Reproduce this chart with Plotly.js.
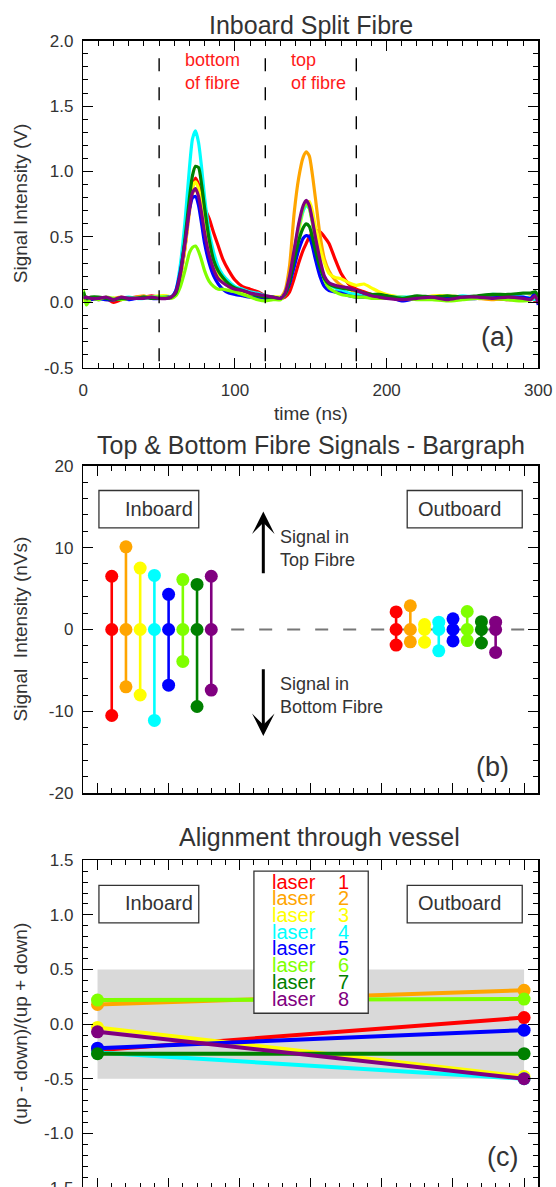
<!DOCTYPE html>
<html><head><meta charset="utf-8">
<script src="https://cdn.plot.ly/plotly-3.0.1.min.js"></script>
<style>html,body{margin:0;padding:0;overflow:hidden;background:#fff}</style>
</head><body><div id="chart" style="width:556px;height:1200px"></div>
<script>
// ---------- Panel (a): Inboard split fibre signals ----------
const time = [0,2,5,10,15,20,25,30,35,40,45,50,55,
  58,61,64,67,70,72,74,76,78,80,83,86,89,92,96,100,105,110,115,120,125,130,
  133,136,139,142,145,147,149,151,153,156,159,162,166,170,175,180,185,190,195,200,
  210,220,230,240,250,260,270,280,290,295,298,300];

const laser1 = [0.05,0.02,0.03,0.02,0.03,0.00,0.02,0.03,0.04,0.04,0.05,0.04,0.04,
  0.04,0.06,0.20,0.42,0.72,0.88,0.95,0.90,0.80,0.72,0.64,0.53,0.43,0.33,0.24,0.17,0.12,0.10,0.08,0.05,0.04,0.03,
  0.04,0.08,0.18,0.30,0.40,0.45,0.50,0.53,0.55,0.54,0.50,0.45,0.33,0.22,0.14,0.10,0.08,0.06,0.05,0.04,
  0.03,0.04,0.03,0.03,0.03,0.04,0.03,0.02,0.03,0.04,0.01,0.03];
const laser2 = [0.07,0.03,0.02,0.03,0.02,0.03,0.04,0.03,0.04,0.05,0.03,0.04,0.04,
  0.04,0.07,0.20,0.41,0.69,0.83,0.87,0.82,0.70,0.55,0.38,0.27,0.20,0.16,0.12,0.09,0.07,0.06,0.05,0.04,0.04,0.04,
  0.09,0.28,0.68,0.95,1.11,1.15,1.12,0.98,0.80,0.52,0.33,0.24,0.17,0.13,0.10,0.08,0.06,0.05,0.04,0.04,
  0.04,0.03,0.03,0.04,0.04,0.03,0.02,0.03,0.03,0.03,0.04,0.05];
const laser3 = [0.00,0.04,0.02,0.03,0.02,0.03,0.02,0.03,0.03,0.03,0.04,0.05,0.05,
  0.04,0.07,0.21,0.43,0.73,0.88,0.92,0.87,0.74,0.58,0.40,0.29,0.21,0.16,0.12,0.10,0.08,0.06,0.05,0.04,0.04,0.04,
  0.06,0.16,0.34,0.54,0.70,0.76,0.77,0.70,0.58,0.42,0.30,0.22,0.19,0.18,0.15,0.13,0.14,0.11,0.08,0.06,
  0.04,0.03,0.05,0.05,0.04,0.03,0.04,0.04,0.03,0.04,0.06,0.04];
const laser4 = [0.06,0.03,0.03,0.02,0.03,0.02,0.03,0.04,0.03,0.03,0.04,0.04,0.04,
  0.04,0.09,0.29,0.61,1.03,1.25,1.31,1.22,1.03,0.80,0.54,0.38,0.27,0.21,0.16,0.12,0.10,0.08,0.07,0.05,0.04,0.03,
  0.07,0.19,0.38,0.57,0.70,0.74,0.72,0.62,0.48,0.30,0.19,0.14,0.11,0.09,0.07,0.06,0.05,0.05,0.04,0.04,
  0.04,0.04,0.04,0.03,0.05,0.04,0.06,0.05,0.04,0.03,0.02,0.04];
const laser5 = [0.04,0.03,0.02,0.03,0.02,0.02,0.03,0.02,0.03,0.04,0.03,0.03,0.04,
  0.04,0.09,0.24,0.46,0.71,0.80,0.81,0.74,0.60,0.45,0.30,0.20,0.14,0.10,0.07,0.06,0.05,0.04,0.04,0.03,0.03,0.03,
  0.06,0.14,0.27,0.40,0.49,0.51,0.50,0.43,0.33,0.20,0.12,0.09,0.08,0.07,0.05,0.04,0.04,0.04,0.05,0.05,
  0.01,0.03,0.03,0.04,0.03,0.03,0.05,0.04,0.04,0.03,0.07,-0.02];
const laser6 = [0.10,-0.02,0.03,0.02,0.04,0.03,0.02,0.03,0.03,0.04,0.04,0.04,0.04,
  0.03,0.05,0.12,0.24,0.38,0.42,0.43,0.39,0.32,0.24,0.16,0.12,0.10,0.10,0.09,0.08,0.06,0.04,0.02,0.01,0.02,0.02,
  0.06,0.19,0.38,0.58,0.72,0.76,0.72,0.61,0.48,0.31,0.17,0.11,0.08,0.06,0.05,0.04,0.04,0.03,0.03,0.03,
  0.03,0.02,0.02,0.01,0.02,0.03,0.03,0.02,0.01,0.02,0.04,0.02];
const laser7 = [0.08,0.03,0.04,0.04,0.03,0.02,0.03,0.03,0.03,0.04,0.03,0.03,0.03,
  0.04,0.07,0.22,0.48,0.80,0.97,1.04,1.03,0.90,0.72,0.48,0.32,0.24,0.19,0.14,0.11,0.09,0.07,0.05,0.04,0.04,0.03,
  0.06,0.16,0.32,0.47,0.57,0.60,0.58,0.50,0.40,0.27,0.18,0.14,0.12,0.11,0.10,0.09,0.07,0.06,0.06,0.05,
  0.03,0.05,0.04,0.05,0.04,0.05,0.06,0.06,0.07,0.07,0.08,0.04];
const laser8 = [0.03,0.04,0.03,0.03,0.04,0.02,0.04,0.03,0.03,0.03,0.04,0.03,0.03,
  0.04,0.08,0.22,0.45,0.72,0.84,0.87,0.81,0.68,0.53,0.36,0.25,0.18,0.15,0.12,0.10,0.09,0.07,0.06,0.05,0.04,0.03,
  0.07,0.20,0.40,0.60,0.74,0.78,0.74,0.63,0.50,0.33,0.20,0.15,0.13,0.12,0.11,0.09,0.07,0.05,0.04,0.03,
  0.02,0.03,0.04,0.02,0.04,0.04,0.03,0.04,0.03,0.02,0.05,-0.01];
const regionBounds = [50, 120, 180];

// ---------- Panel (b): top & bottom fibre signals ----------
const laserNames = ['1','2','3','4','5','6','7','8'];
const inboardTop    = [6.5, 10.1, 7.5, 6.6, 4.3, 6.1, 5.5, 6.5];
const inboardBottom = [-10.5, -7.0, -8.0, -11.1, -6.8, -3.9, -9.4, -7.4];
const outboardTop    = [2.15, 2.9, 0.6, 0.9, 1.3, 2.2, 0.95, 0.9];
const outboardBottom = [-1.9, -1.5, -1.55, -2.6, -1.4, -1.35, -1.65, -2.8];

// ---------- Panel (c): alignment ----------
const inboardAlign  = [-0.24, 0.18, -0.03, -0.26, -0.22, 0.22, -0.27, -0.07];
const outboardAlign = [0.06, 0.31, -0.48, -0.50, -0.055, 0.23, -0.27, -0.50];

// axis tick labels
const tickA = [-0.5,0,0.5,1,1.5,2], tickAText = ['-0.5','0.0','0.5','1.0','1.5','2.0'];
const tickB = [-20,-10,0,10,20], tickBText = ['-20','-10','0','10','20'];
const tickC = [-1.5,-1,-0.5,0,0.5,1,1.5], tickCText = ['-1.5','-1.0','-0.5','0.0','0.5','1.0','1.5'];
const tickX = [0,100,200,300], tickXText = ['0','100','200','300'];

// ---------- styles ----------
const COLORS = ['#ff0000','#ffa500','#ffff00','#00ffff','#0000ff','#7fff00','#008000','#800080'];
const FONT = '"Liberation Sans", Arial, sans-serif';
const TXT = '#333';
const signals = [laser1,laser2,laser3,laser4,laser5,laser6,laser7,laser8];

const traces = [];
signals.forEach((s,i)=>{
  traces.push({x: time, y: s, type:'scatter', mode:'lines', xaxis:'x', yaxis:'y',
    line:{color:COLORS[i], width:3.2, shape:'spline', smoothing:0.6}, hoverinfo:'skip'});
});
laserNames.forEach((n,i)=>{
  const xi = i + 1;
  traces.push({x:[xi,xi,xi], y:[inboardBottom[i],0,inboardTop[i]], type:'scatter', mode:'lines+markers',
    xaxis:'x2', yaxis:'y2', line:{color:COLORS[i], width:2.6}, marker:{color:COLORS[i], size:13}, hoverinfo:'skip'});
  const xo = 21 + i;
  traces.push({x:[xo,xo,xo], y:[outboardBottom[i],0,outboardTop[i]], type:'scatter', mode:'lines+markers',
    xaxis:'x2', yaxis:'y2', line:{color:COLORS[i], width:2.6}, marker:{color:COLORS[i], size:13}, hoverinfo:'skip'});
});
laserNames.forEach((n,i)=>{
  traces.push({x:[0,30], y:[inboardAlign[i], outboardAlign[i]], type:'scatter', mode:'lines+markers',
    xaxis:'x3', yaxis:'y3', line:{color:COLORS[i], width:4}, marker:{color:COLORS[i], size:13}, hoverinfo:'skip'});
});

const H = 1200;
const dom = (top, bot) => [1 - bot/H, 1 - top/H];
const xDom = [83.3/556, 538.3/556];

function axis(extra){
  return Object.assign({showline:true, linecolor:'#000', linewidth:1.5, mirror:'allticks',
    ticks:'inside', ticklen:10, tickwidth:1, tickcolor:'#000', showgrid:false, zeroline:false,
    tickfont:{family:FONT, size:17, color:TXT}, fixedrange:true}, extra);
}
function minor(d){ return {ticks:'inside', ticklen:5, tickwidth:1, tickcolor:'#000', dtick:d, showgrid:false}; }

const layout = {
  width:556, height:H, margin:{l:0,r:0,t:0,b:0}, showlegend:false,
  paper_bgcolor:'#fff', plot_bgcolor:'#fff', font:{family:FONT, color:TXT},
  xaxis: axis({domain:xDom, anchor:'y', range:[0,300], tickmode:'array', tickvals:tickX, ticktext:tickXText,
    minor:minor(10), ticklabelstandoff:6}),
  yaxis: axis({domain:dom(40.7,367.7), anchor:'x', range:[-0.5,2], tickmode:'array', tickvals:tickA, ticktext:tickAText,
    minor:minor(0.1), ticklabelstandoff:5}),
  xaxis2: axis({domain:xDom, anchor:'y2', range:[-1,31], tick0:0, dtick:5, showticklabels:false, minor:minor(1)}),
  yaxis2: axis({domain:dom(465.7,793.3), anchor:'x2', range:[-20,20], tickmode:'array', tickvals:tickB, ticktext:tickBText,
    minor:minor(2), ticklabelstandoff:5}),
  xaxis3: axis({domain:xDom, anchor:'y3', range:[-1,31], tick0:0, dtick:5, showticklabels:false, minor:minor(1)}),
  yaxis3: axis({domain:dom(860.3,1188), anchor:'x3', range:[-1.5,1.5], tickmode:'array', tickvals:tickC, ticktext:tickCText,
    minor:minor(0.1), ticklabelstandoff:5}),
  shapes: [], annotations: []
};

// dashed region bounds (a)
regionBounds.forEach(t=>{
  layout.shapes.push({type:'line', xref:'x', yref:'y', x0:t, x1:t, y0:1.865, y1:-0.5,
    line:{color:'#000', width:1.4, dash:'13px,16px'}, layer:'above'});
});
// zero dashed line (b)
layout.shapes.push({type:'line', xref:'x2', yref:'y2', x0:9.4, x1:31, y0:0, y1:0,
  line:{color:'#777', width:2, dash:'13px,15px'}, layer:'below'});
// boxes
const boxLine = {color:'#333', width:1.3};
layout.shapes.push({type:'rect', xref:'x2', yref:'y2', x0:0.1, x1:7.12, y0:12.4, y1:16.97, line:boxLine});
layout.shapes.push({type:'rect', xref:'x2', yref:'y2', x0:21.78, x1:29.87, y0:12.4, y1:16.97, line:boxLine});
layout.shapes.push({type:'rect', xref:'x3', yref:'y3', x0:0.1, x1:7.12, y0:0.928, y1:1.27, line:boxLine});
layout.shapes.push({type:'rect', xref:'x3', yref:'y3', x0:21.78, x1:29.87, y0:0.928, y1:1.27, line:boxLine});
// gray band (c)
layout.shapes.push({type:'rect', xref:'x3', yref:'y3', x0:0, x1:30, y0:-0.5, y1:0.5,
  fillcolor:'#d9d9d9', line:{width:0}, layer:'below'});
// legend box (c)
layout.shapes.push({type:'rect', xref:'x3', yref:'y3', x0:11.0, x1:19.04, y0:0.10, y1:1.40,
  fillcolor:'#fff', line:boxLine, layer:'above'});

const A = layout.annotations;
function pt(text, x, y, size, opts){
  A.push(Object.assign({text:text, xref:'paper', yref:'paper', x:x/556, y:1-y/H, xanchor:'center', yanchor:'middle',
    showarrow:false, font:{family:FONT, size:size, color:TXT}}, opts||{}));
}
// titles
pt('Inboard Split Fibre', 310.5, 24.8, 25);
pt('Top &amp; Bottom Fibre Signals - Bargraph', 311, 445, 25);
pt('Alignment through vessel', 319.3, 837.3, 25);
// axis titles
pt('time (ns)', 310.5, 413.5, 19);
pt('Signal Intensity (V)', 20, 204.2, 19, {textangle:-90});
pt('Signal\u00a0 Intensity (nVs)', 20, 629.5, 19, {textangle:-90});
pt('(up - down)/(up + down)', 20, 1024, 19, {textangle:-90});
// panel letters
pt('(a)', 497, 337.3, 27);
pt('(b)', 492.5, 766.7, 27);
pt('(c)', 502.8, 1156.7, 27);

// (a) red labels
A.push({text:'bottom<br>of fibre', xref:'x', yref:'y', x:65.9, y:1.763, xanchor:'left', yanchor:'middle', align:'left',
  showarrow:false, font:{family:FONT, size:18, color:'#ff1a1a'}});
A.push({text:'top<br>of fibre', xref:'x', yref:'y', x:135.8, y:1.763, xanchor:'left', yanchor:'middle', align:'left',
  showarrow:false, font:{family:FONT, size:18, color:'#ff1a1a'}});

// (b) Inboard/Outboard labels
A.push({text:'Inboard', xref:'x2', yref:'y2', x:1.81, y:14.74, xanchor:'left', yanchor:'middle', showarrow:false,
  font:{family:FONT, size:20, color:TXT}});
A.push({text:'Outboard', xref:'x2', yref:'y2', x:22.4, y:14.74, xanchor:'left', yanchor:'middle', showarrow:false,
  font:{family:FONT, size:20, color:TXT}});
A.push({text:'Inboard', xref:'x3', yref:'y3', x:1.81, y:1.105, xanchor:'left', yanchor:'middle', showarrow:false,
  font:{family:FONT, size:20, color:TXT}});
A.push({text:'Outboard', xref:'x3', yref:'y3', x:22.4, y:1.105, xanchor:'left', yanchor:'middle', showarrow:false,
  font:{family:FONT, size:20, color:TXT}});

// (b) arrows and texts
A.push({text:'', xref:'x2', yref:'y2', axref:'x2', ayref:'y2', x:11.66, y:14.4, ax:11.66, ay:6.7,
  showarrow:true, arrowhead:3, arrowsize:1.25, arrowwidth:3, arrowcolor:'#000', standoff:0, startstandoff:0});
A.push({text:'', xref:'x2', yref:'y2', axref:'x2', ayref:'y2', x:11.66, y:-13.0, ax:11.66, ay:-4.67,
  showarrow:true, arrowhead:3, arrowsize:1.25, arrowwidth:3, arrowcolor:'#000', standoff:0, startstandoff:0});
A.push({text:'Signal in<br>Top Fibre', xref:'x2', yref:'y2', x:12.71, y:9.9, xanchor:'left', yanchor:'middle', align:'left',
  showarrow:false, font:{family:FONT, size:18, color:TXT}});
A.push({text:'Signal in<br>Bottom Fibre', xref:'x2', yref:'y2', x:12.71, y:-8.05, xanchor:'left', yanchor:'middle', align:'left',
  showarrow:false, font:{family:FONT, size:18, color:TXT}});

// (c) legend rows
laserNames.forEach((n,i)=>{
  const yv = 1.303 - i*0.1526;
  A.push({text:'laser', xref:'x3', yref:'y3', x:12.13, y:yv, xanchor:'left', yanchor:'middle', showarrow:false,
    font:{family:FONT, size:20, color:COLORS[i]}});
  A.push({text:n, xref:'x3', yref:'y3', x:17.28, y:yv, xanchor:'center', yanchor:'middle', showarrow:false,
    font:{family:FONT, size:20, color:COLORS[i]}});
});

Plotly.newPlot('chart', traces, layout, {staticPlot:true, displayModeBar:false});
</script>
</body></html>
